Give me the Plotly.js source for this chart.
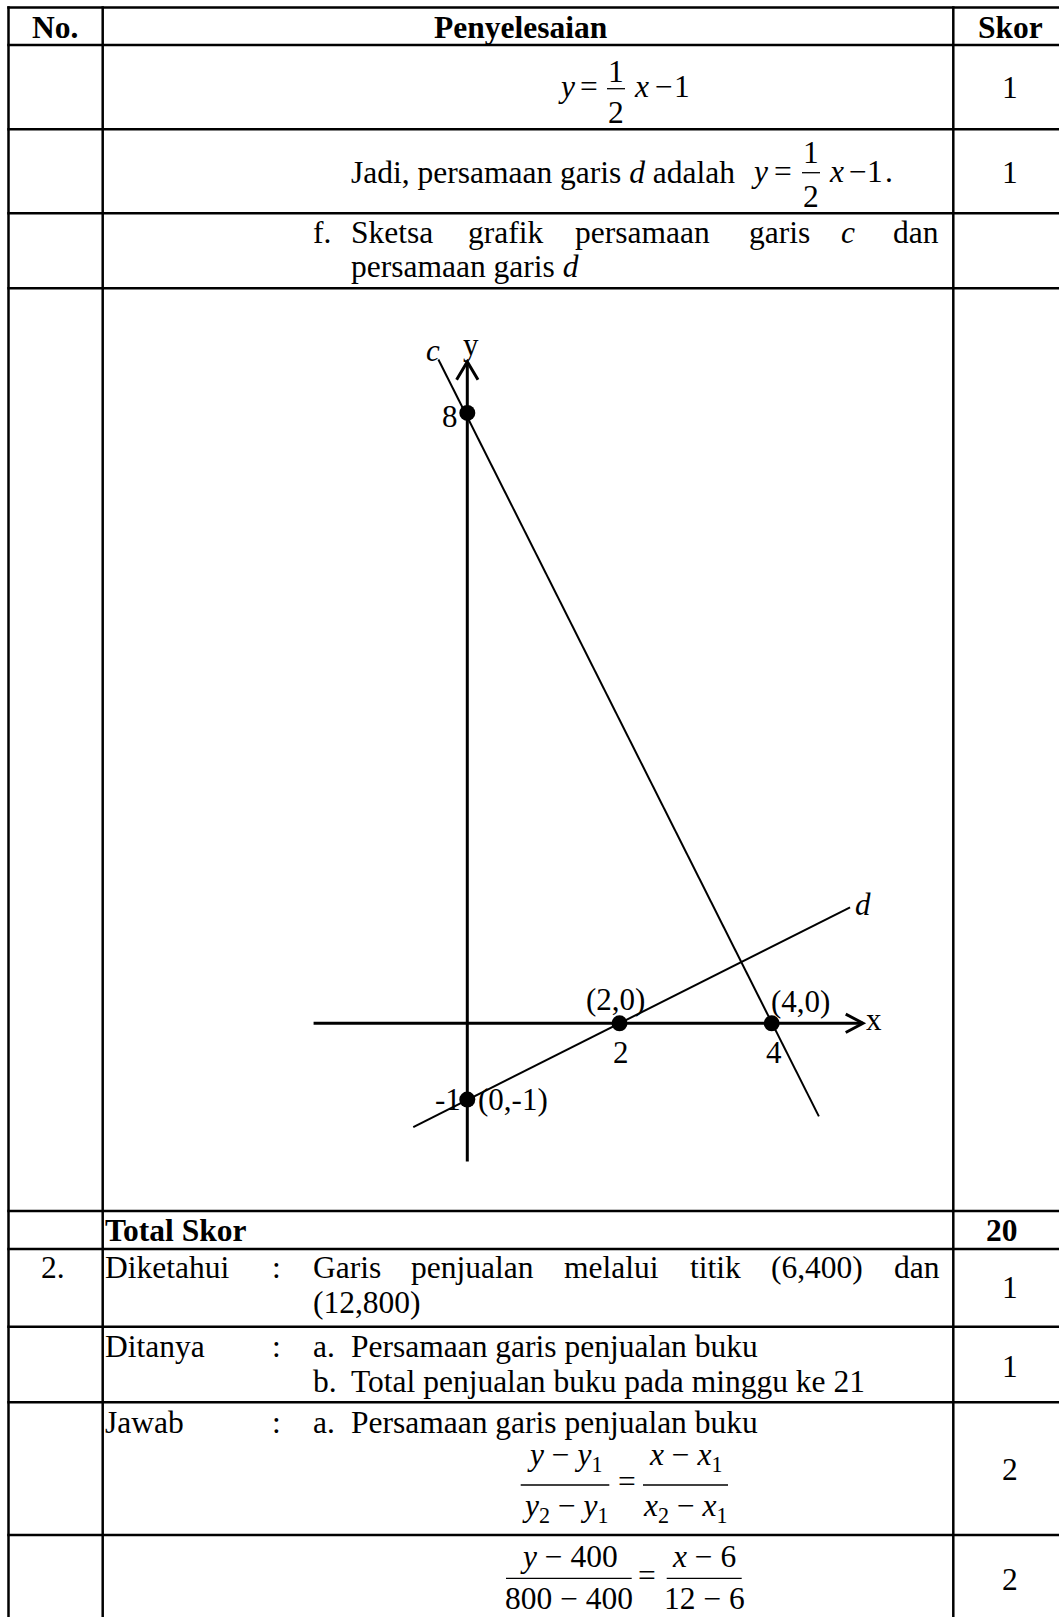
<!DOCTYPE html>
<html><head><meta charset="utf-8">
<script src="https://cdn.plot.ly/plotly-3.0.1.min.js"></script>
<style>html,body{margin:0;padding:0;background:#fff}#chart{width:1059px;height:1617px}</style>
</head><body><div id="chart"></div>
<script>
// ---------- data: sketch of lines c and d ----------
const pointX = [0, 2, 4, 0];
const pointY = [8, 0, 0, -1];
const pointTick = ['8', '2', '4', '-1'];
const pointCoord = ['', '(2,0)', '(4,0)', '(0,-1)'];
const lineCX = [-0.38, 4.62];
const lineCY = [8.70, -1.22];
const lineDX = [-0.71, 5.03];
const lineDY = [-1.36, 1.52];
const axisXExtent = [-2.02, 5.20];
const axisYExtent = [-1.81, 8.67];
const lineNames = ['c', 'd'];
const axisNames = ['x', 'y'];
// ---------- data: table ----------
const headers = ['No.', 'Penyelesaian', 'Skor'];
const scores = ['1', '1', '20', '1', '1', '2', '2'];
const totalLabel = 'Total Skor';
const problemNo = '2.';

// ---------- page geometry ----------
const W = 1059, H = 1617;
const FONT = 'Liberation Serif, Times New Roman, serif';
const FS = 31.5;
const anns = [], shapes = [];
function T(text, x, base, o) {
  o = o || {};
  const fs = o.size || FS;
  anns.push({xref: 'paper', yref: 'paper', x: x / W, y: 1 - (base - 0.3375 * fs) / H,
    xanchor: o.anchor || 'left', yanchor: 'middle', text: text, showarrow: false, borderpad: 0,
    font: {family: FONT, size: fs, color: '#000'}});
}
function HL(x0, x1, y, w) {
  shapes.push({type: 'line', xref: 'paper', yref: 'paper', x0: x0 / W, x1: x1 / W, y0: 1 - y / H, y1: 1 - y / H,
    line: {color: '#000', width: w || 2.5}});
}
function VL(x, y0, y1, w) {
  shapes.push({type: 'line', xref: 'paper', yref: 'paper', x0: x / W, x1: x / W, y0: 1 - y0 / H, y1: 1 - y1 / H,
    line: {color: '#000', width: w || 2.5}});
}
function frac(num, den, x0, x1, barY, numBase, denBase) {
  HL(x0, x1, barY, 1.3);
  T(num, (x0 + x1) / 2, numBase, {anchor: 'center'});
  T(den, (x0 + x1) / 2, denBase, {anchor: 'center'});
}

// table grid
[7.5, 45, 129.3, 213.3, 288.3, 1211, 1249, 1326.7, 1402.3, 1535].forEach(y => HL(7.3, W, y));
[8.5, 102.7, 953.3].forEach(x => VL(x, 6.3, H));

// header
T('<b>' + headers[0] + '</b>', 55, 37.7, {anchor: 'center'});
T('<b>' + headers[1] + '</b>', 520.5, 37.7, {anchor: 'center'});
T('<b>' + headers[2] + '</b>', 1010, 37.7, {anchor: 'center'});

// row 1: y = 1/2 x - 1
T('<i>y</i>', 566, 96.7, {anchor: 'center'});
T('=', 589, 96.7, {anchor: 'center'});
frac('1', '2', 607, 625, 88.7, 81.7, 123);
T('<i>x</i>', 641, 96.7, {anchor: 'center'});
T('\u2212', 664, 96.7, {anchor: 'center'});
T('1', 682, 96.7, {anchor: 'center'});
T(scores[0], 1010, 98.3, {anchor: 'center'});

// row 2
T('Jadi, persamaan garis <i>d</i> adalah', 350, 183);
T('<i>y</i>', 759, 181.7, {anchor: 'center'});
T('=', 783, 181.7, {anchor: 'center'});
frac('1', '2', 802, 820, 172.7, 163.3, 206.7);
T('<i>x</i>', 836, 181.7, {anchor: 'center'});
T('\u2212', 858, 181.7, {anchor: 'center'});
T('1', 875, 181.7, {anchor: 'center'});
T('.', 889, 181.7, {anchor: 'center'});
T(scores[1], 1010, 182.7, {anchor: 'center'});

// row 3 (justified)
T('f.', 311.7, 242.7);
[['Sketsa', 350], ['grafik', 467], ['persamaan', 574], ['garis', 748], ['<i>c</i>', 840], ['dan', 892]]
  .forEach(w => T(w[0], w[1], 242.7));
T('persamaan garis <i>d</i>', 350, 276.7);

// total
T('<b>' + totalLabel + '</b>', 103.5, 1240.7);
T('<b>' + scores[2] + '</b>', 1002, 1240.7, {anchor: 'center'});

// problem 2
T(problemNo, 53, 1278.3, {anchor: 'center'});
T('Diketahui', 104, 1278.3);
T(':', 277, 1278.3, {anchor: 'center'});
[['Garis', 312], ['penjualan', 410], ['melalui', 563.3], ['titik', 689], ['(6,400)', 770], ['dan', 893.3]]
  .forEach(w => T(w[0], w[1], 1278.3));
T('(12,800)', 311.7, 1313.3);
T(scores[3], 1010, 1298.3, {anchor: 'center'});

T('Ditanya', 104, 1356.7);
T(':', 277, 1356.7, {anchor: 'center'});
T('a.', 311.7, 1356.7);
T('Persamaan garis penjualan buku', 350, 1356.7);
T('b.', 311.7, 1392.3);
T('Total penjualan buku pada minggu ke 21', 350, 1392.3);
T(scores[4], 1010, 1376.7, {anchor: 'center'});

T('Jawab', 104, 1433.3);
T(':', 277, 1433.3, {anchor: 'center'});
T('a.', 311.7, 1433.3);
T('Persamaan garis penjualan buku', 350, 1433.3);
frac('<i>y</i> \u2212 <i>y</i><sub>1</sub>', '<i>y</i><sub>2</sub> \u2212 <i>y</i><sub>1</sub>', 520.7, 609.3, 1485, 1467.5, 1519);
T('=', 626.7, 1492.5, {anchor: 'center'});
frac('<i>x</i> \u2212 <i>x</i><sub>1</sub>', '<i>x</i><sub>2</sub> \u2212 <i>x</i><sub>1</sub>', 643, 728, 1485, 1467.5, 1519);
T(scores[5], 1010, 1480, {anchor: 'center'});

frac('<i>y</i> \u2212 400', '800 \u2212 400', 506, 631.7, 1578.3, 1566.7, 1609.5);
T('=', 646.7, 1585.8, {anchor: 'center'});
frac('<i>x</i> \u2212 6', '12 \u2212 6', 666.7, 741.7, 1578.3, 1566.7, 1609.5);
T(scores[6], 1010, 1590, {anchor: 'center'});

// ---------- graph ----------
const GFS = 31;
function G(text, x, y, xs, ys, o) {
  o = o || {};
  anns.push({xref: 'x', yref: 'y', x: x, y: y, xshift: xs, yshift: ys, text: text, showarrow: false,
    xanchor: o.anchor || 'center', yanchor: 'middle', borderpad: 0,
    font: {family: FONT, size: GFS, color: '#000'}});
}
// axes (drawn below the marks)
shapes.push({type: 'line', xref: 'x', yref: 'y', layer: 'below', x0: axisXExtent[0], x1: axisXExtent[1], y0: 0, y1: 0, line: {color: '#000', width: 3}});
shapes.push({type: 'line', xref: 'x', yref: 'y', layer: 'below', x0: 0, x1: 0, y0: axisYExtent[0], y1: axisYExtent[1], line: {color: '#000', width: 3}});
// open arrow heads
shapes.push({type: 'path', xref: 'x', yref: 'y', xsizemode: 'pixel', ysizemode: 'pixel', xanchor: axisXExtent[1], yanchor: 0,
  path: 'M-17.3,9.2L0,0L-17.3,-9.2', line: {color: '#000', width: 3}});
shapes.push({type: 'path', xref: 'x', yref: 'y', xsizemode: 'pixel', ysizemode: 'pixel', xanchor: 0, yanchor: axisYExtent[1],
  path: 'M-10.7,-18L0,0L10.7,-18', line: {color: '#000', width: 3}});

// labels
const tickShift = [[-17.3, -3.7], [1.2, -29.6], [2.7, -29.6], [-19.3, -0.3]];
const coordShift = [[0, 0], [-4.5, 23.4], [29.1, 21.4], [45.7, -0.3]];
pointX.forEach((px, i) => {
  G(pointTick[i], px, pointY[i], tickShift[i][0], tickShift[i][1]);
  if (pointCoord[i]) G(pointCoord[i], px, pointY[i], coordShift[i][0], coordShift[i][1]);
});
G('<i>' + lineNames[0] + '</i>', lineCX[0], lineCY[0] - 0.05, -5.4, 13);
G('<i>' + lineNames[1] + '</i>', lineDX[1], lineDY[1], 12.9, 2.4);
G(axisNames[0], axisXExtent[1], 0, 2, 3.4, {anchor: 'left'});
G(axisNames[1], 0, axisYExtent[1], 3.7, 16.9);

const traces = [
  {x: lineCX, y: lineCY, mode: 'lines', line: {color: '#000', width: 2}, hoverinfo: 'skip'},
  {x: lineDX, y: lineDY, mode: 'lines', line: {color: '#000', width: 2}, hoverinfo: 'skip'},
  {x: pointX, y: pointY, mode: 'markers', marker: {color: '#000', size: 16}, cliponaxis: false, hoverinfo: 'skip'}
];

const layout = {
  width: W, height: H, margin: {l: 0, r: 0, t: 0, b: 0},
  paper_bgcolor: '#fff', plot_bgcolor: 'rgba(0,0,0,0)', showlegend: false,
  xaxis: {domain: [300 / W, 900 / W], range: [-2.1984, 5.6859], visible: false, fixedrange: true},
  yaxis: {domain: [1 - 1180 / H, 1 - 330 / H], range: [-2.0537, 9.0865], visible: false, fixedrange: true},
  annotations: anns, shapes: shapes
};
Plotly.newPlot('chart', traces, layout, {staticPlot: true, displayModeBar: false});
</script></body></html>
